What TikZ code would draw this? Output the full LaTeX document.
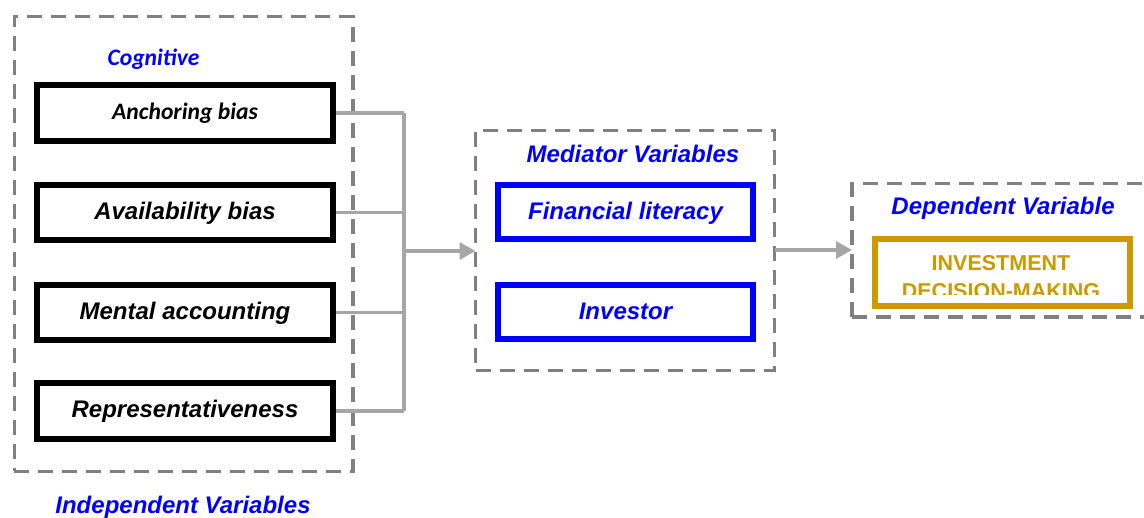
\documentclass[tikz,border=0pt]{standalone}
\usepackage{fontspec}
\setmainfont{Liberation Sans}
\newfontfamily\carlito{Carlito}
\usetikzlibrary{arrows.meta}
\definecolor{framegray}{HTML}{808080}
\definecolor{linkgray}{HTML}{A6A6A6}
\definecolor{gold}{HTML}{CC9900}
\definecolor{vblue}{HTML}{0000FF}
\begin{document}
\begin{tikzpicture}[x=1pt,y=-1pt,
  group/.style={draw=framegray, line width=3.3pt, dash pattern=on 15pt off 9pt,
    inner sep=0pt, outer sep=0pt},
  bi/.style={font=\fontsize{24}{28}\selectfont\bfseries\itshape},
  cal/.style={font=\fontsize{23.6}{28}\selectfont\carlito\bfseries\itshape},
  ivbox/.style={draw=black, line width=5.8pt, minimum width=296pt, minimum height=55.6pt,
    inner sep=0pt, text height=14pt, text depth=0pt},
  mvbox/.style={draw=vblue, text=vblue, line width=5.5pt, minimum width=255pt,
    minimum height=54pt, inner sep=0pt, text height=15pt, text depth=0pt, bi},
  heading/.style={text=vblue, anchor=base, inner sep=0pt},
  conn/.style={draw=linkgray, line width=3.3pt},
  arr/.style={conn, -{Triangle[length=16pt,width=17pt]}}
]
\useasboundingbox (0,0) rectangle (1144,518);

% groups
\node[group, minimum width=338.7pt, minimum height=454.8pt] (indep) at (183.6,244.1) {};
\node[group, minimum width=299pt, minimum height=240pt] (med) at (625,250.3) {};
\node[group, minimum width=318pt, minimum height=133.7pt] (dep) at (1011,250.2) {};

% headings
\node[heading, cal] (cog) at (153.5,65.5) {Cognitive};
\node[heading, bi] (medtitle) at (633,162.7) {Mediator Variables};
\node[heading, bi] (deptitle) at (1003,214.3) {Dependent Variable};
\node[heading, bi] (indtitle) at (183,513.3) {Independent Variables};

% independent variables
\node[ivbox, cal] (anch) at (185,113) {Anchoring bias};
\node[ivbox, bi] (avail) at (185,212.5) {Availability bias};
\node[ivbox, bi] (mental) at (185,312.5) {Mental accounting};
\node[ivbox, bi] (repr) at (185,411) {Representativeness};

% mediators
\node[mvbox] (fin) at (625.5,212) {Financial literacy};
\node[mvbox] (inv) at (625.5,312) {Investor};

% dependent variable, its text cut off at the bottom
\node[draw=gold, line width=5.8pt, minimum width=255pt, minimum height=67pt, inner sep=0pt]
  (dv) at (1002.5,272.5) {};
\begin{scope}
  \clip (877.5,241.5) rectangle (1127.5,295);
  \node[text=gold, anchor=base, align=center, inner sep=0pt,
    font=\fontsize{21.5}{27.5}\selectfont\bfseries] (dvtext) at (1001,298.5)
    {INVESTMENT\\DECISION-MAKING};
\end{scope}

% connectors
\coordinate (bus) at (404,251);
\foreach \n in {anch,avail,mental,repr}
  \draw[conn] (\n.east) -- (\n.east -| bus);
\draw[conn] (anch.east -| bus) -- (repr.east -| bus);
\draw[arr] (bus) -- (bus -| med.west);
\draw[arr] (med.east |- 0,250) -- (dep.west |- 0,250);
\end{tikzpicture}
\end{document}
